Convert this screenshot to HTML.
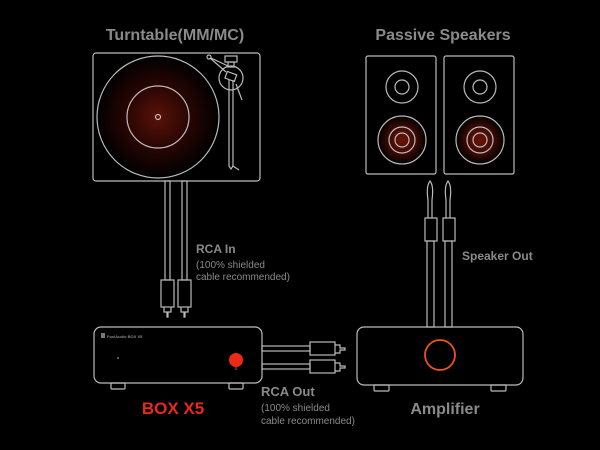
<!DOCTYPE html>
<html><head><meta charset="utf-8"><style>
html,body{margin:0;padding:0;background:#000;}
svg{display:block}
text{font-family:"Liberation Sans",sans-serif;}
</style></head><body>
<svg width="600" height="450" viewBox="0 0 600 450">
<defs>
<radialGradient id="rg" cx="50%" cy="50%" r="50%">
<stop offset="0" stop-color="#5a1208"/><stop offset="0.5" stop-color="#2a0604"/><stop offset="1" stop-color="#000"/>
</radialGradient>
<radialGradient id="rs" cx="50%" cy="50%" r="50%">
<stop offset="0" stop-color="#6a1406"/><stop offset="0.6" stop-color="#3a0a04"/><stop offset="1" stop-color="#000"/>
</radialGradient>
</defs>
<g fill="none" stroke="#bbb" stroke-width="1.2">
<!-- turntable -->
<rect x="93" y="53" width="167" height="128" rx="3"/>
<circle cx="158" cy="117" r="61" fill="url(#rg)"/>
<circle cx="158" cy="117" r="31"/>
<circle cx="158" cy="117" r="2.5"/>
<circle cx="231" cy="78" r="12"/>
<line x1="210" y1="58" x2="226" y2="72"/>
<circle cx="209" cy="57" r="2"/>
<line x1="211" y1="58" x2="228" y2="66"/>
<rect x="225" y="56" width="12" height="6"/>
<rect x="228" y="62" width="6" height="5"/>
<rect x="226" y="73" width="10" height="7" transform="rotate(20 231 76)"/>
<path d="M229 80 L229 166 L231 169 L233 166 L233 80"/>
<line x1="233" y1="166" x2="239" y2="170"/>
<line x1="236" y1="84" x2="242" y2="100"/>
<!-- RCA in cables -->
<rect x="165" y="181" width="5" height="99"/>
<rect x="182" y="181" width="5" height="99"/>
<rect x="161" y="280" width="13" height="27"/>
<rect x="178" y="280" width="13" height="27"/>
<path d="M164 307v5h3v5h1v-5h3v-5"/>
<path d="M181 307v5h3v5h1v-5h3v-5"/>
<!-- box x5 -->
<rect x="94" y="327" width="168" height="56" rx="7"/>
<rect x="111" y="383" width="14" height="6" rx="1"/>
<rect x="229" y="383" width="14" height="6" rx="1"/>
<!-- RCA out -->
<rect x="262" y="346" width="48" height="5"/>
<rect x="262" y="364" width="48" height="5"/>
<rect x="310" y="342" width="25" height="13"/>
<rect x="310" y="360" width="25" height="13"/>
<path d="M335 345h5v3h5v2h-5v3h-5"/>
<path d="M335 363h5v3h5v2h-5v3h-5"/>
<!-- amplifier -->
<rect x="357" y="327" width="166" height="58" rx="7"/>
<rect x="374" y="385" width="15" height="6" rx="1"/>
<rect x="491" y="385" width="15" height="6" rx="1"/>
<!-- speakers -->
<rect x="366" y="56" width="70" height="118" rx="2"/>
<rect x="444" y="56" width="70" height="118" rx="2"/>
<circle cx="402" cy="87" r="16"/><circle cx="402" cy="87" r="7"/>
<circle cx="480" cy="87" r="16"/><circle cx="480" cy="87" r="7"/>
<circle cx="402" cy="140" r="24" fill="url(#rs)"/><circle cx="402" cy="140" r="13"/><circle cx="402" cy="140" r="7"/>
<circle cx="480" cy="140" r="24" fill="url(#rs)"/><circle cx="480" cy="140" r="13"/><circle cx="480" cy="140" r="7"/>
<!-- speaker cables -->
<path d="M428 218 L428 200 Q426 186 430 181 Q434 186 432 200 L432 218"/>
<path d="M446 218 L446 200 Q444 186 448 181 Q452 186 450 200 L450 218"/>
<rect x="425" y="218" width="12" height="23"/>
<rect x="443" y="218" width="12" height="23"/>
<rect x="427" y="241" width="7" height="86"/>
<rect x="445" y="241" width="7" height="86"/>
</g>
<circle cx="236" cy="360" r="7" fill="#ee2a14"/>
<circle cx="236" cy="368.5" r="1" fill="none" stroke="#666" stroke-width="0.6"/>
<circle cx="118" cy="358" r="1" fill="#777"/>
<circle cx="440" cy="355" r="15" fill="none" stroke="#f0501e" stroke-width="1.8"/>
<rect x="101" y="333" width="4" height="5" fill="#777"/>
<text x="107" y="338" font-size="4" fill="#888" font-weight="bold">FosiAudio BOX X5</text>
<g fill="#8a8a8a" font-weight="bold">
<text x="175" y="40" font-size="16" text-anchor="middle">Turntable(MM/MC)</text>
<text x="443" y="40" font-size="16" text-anchor="middle">Passive Speakers</text>
<text x="196" y="253" font-size="12">RCA In</text>
<text x="462" y="260" font-size="12">Speaker Out</text>
<text x="261" y="396" font-size="13">RCA Out</text>
<text x="445" y="414" font-size="16" text-anchor="middle">Amplifier</text>
</g>
<g fill="#8a8a8a" font-size="10">
<text x="196" y="268">(100% shielded</text>
<text x="196" y="280">cable recommended)</text>
<text x="261" y="411">(100% shielded</text>
<text x="261" y="424">cable recommended)</text>
</g>
<text x="173" y="414" font-size="17" font-weight="bold" fill="#e8291c" text-anchor="middle">BOX X5</text>
</svg>
</body></html>
